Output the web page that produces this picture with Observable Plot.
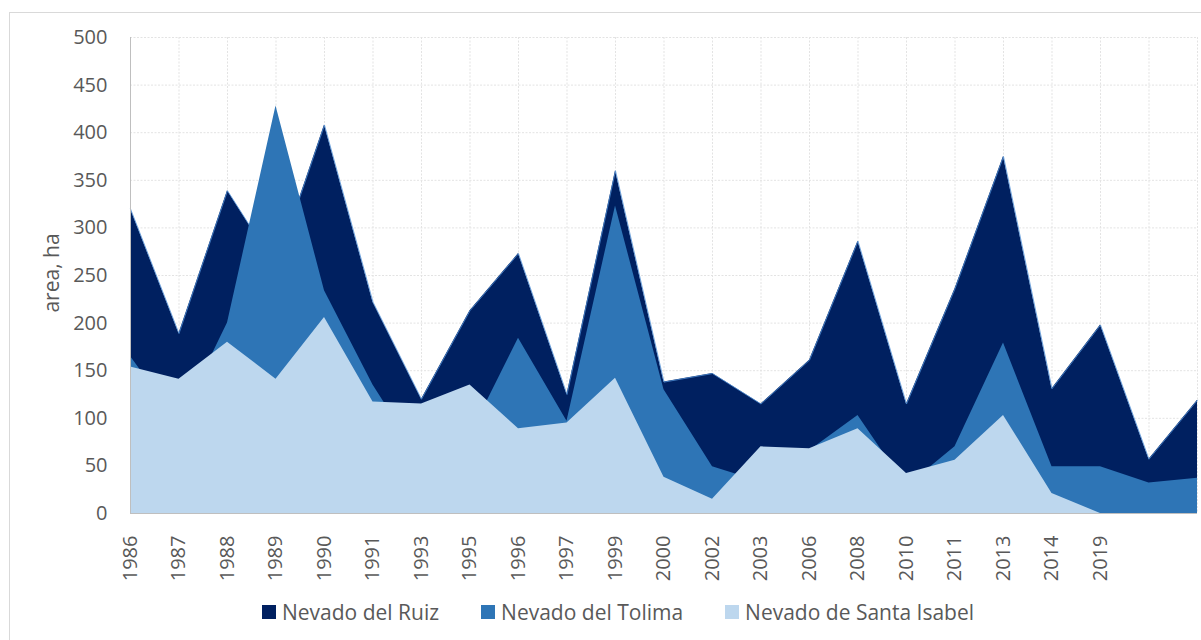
<!DOCTYPE html>
<html>
<head>
<meta charset="utf-8">
<script src="https://cdn.jsdelivr.net/npm/d3@7"></script>
<script src="https://cdn.jsdelivr.net/npm/@observablehq/plot@0.6"></script>
<style>
  html, body { margin: 0; padding: 0; background: #ffffff; }
  body { width: 1201px; height: 640px; position: relative; overflow: hidden; font-family: "Open Sans", sans-serif; }
  #frame { position: absolute; left: 9px; top: 12px; width: 1200px; height: 640px; border: 1px solid #d9d9d9; box-sizing: border-box; }
  #chart { position: absolute; left: 0; top: 0; }
  #ylabel { position: absolute; left: 51px; top: 273px; transform: translate(-50%, -50%) rotate(-90deg); font-size: 21px; color: #595959; white-space: nowrap; }
  #legend { position: absolute; left: 262px; top: 598px; display: flex; gap: 42px; font-size: 21px; color: #595959; line-height: 28px; }
  .item { display: flex; align-items: center; gap: 6px; }
  .sw { width: 14px; height: 14px; display: inline-block; }
</style>
</head>
<body>
<div id="frame"></div>
<div id="chart"></div>
<div id="ylabel">area, ha</div>
<div id="legend"></div>
<script>
// Category labels (last two categories are unlabeled in the original)
const years = ["1986","1987","1988","1989","1990","1991","1993","1995","1996","1997","1999",
               "2000","2002","2003","2006","2008","2010","2011","2013","2014","2019","",""];
// Series values (area, ha)
const ruiz   = [320, 189, 339, 259, 408, 222, 120, 213, 273, 125, 360, 138, 147, 115, 161, 286, 115, 236, 375, 131, 198, 57, 119];
const tolima = [165,  95, 200, 428, 234, 135,  55,  82, 184,  97, 323, 130,  49,  33,  66, 103,  28,  70, 179,  49,  49, 32,  37];
const isabel = [154, 141, 180, 141, 206, 117, 115, 135,  89,  95, 142,  38,  15,  70,  68,  89,  42,  56, 103,  21,   0,  0,   0];
const seriesNames = ["Nevado del Ruiz", "Nevado del Tolima", "Nevado de Santa Isabel"];
const seriesColors = ["#002060", "#2E75B6", "#BDD7EE"];
const yTicks = [0, 50, 100, 150, 200, 250, 300, 350, 400, 450, 500];

const idx = d3.range(years.length);
const rows = idx.map(i => ({i, ruiz: ruiz[i], tolima: tolima[i], isabel: isabel[i]}));
const labeled = idx.filter(i => years[i] !== "");

const chart = Plot.plot({
  width: 1201,
  height: 590,
  marginLeft: 130,
  marginRight: 4,
  marginTop: 37,
  marginBottom: 77,
  x: {type: "linear", domain: [0, years.length - 1]},
  y: {domain: [0, 500]},
  style: {fontFamily: "Open Sans, sans-serif", fontSize: "20px", color: "#595959", background: "transparent", overflow: "visible"},
  marks: [
    Plot.gridY(yTicks, {stroke: "#e3e3e3", strokeOpacity: 1, strokeDasharray: "2,1.5"}),
    Plot.gridX(idx, {stroke: "#e3e3e3", strokeOpacity: 1, strokeDasharray: "2,1.5"}),
    Plot.areaY(rows, {x: "i", y: "ruiz", fill: seriesColors[0]}),
    Plot.lineY(rows, {x: "i", y: "ruiz", stroke: "#4f8fd6", strokeWidth: 0.8}),
    Plot.areaY(rows, {x: "i", y: "tolima", fill: seriesColors[1]}),
    Plot.areaY(rows, {x: "i", y: "isabel", fill: seriesColors[2]}),
    Plot.ruleX([0], {stroke: "#bfbfbf"}),
    Plot.ruleY([0], {stroke: "#bfbfbf"}),
    Plot.axisY({ticks: yTicks, tickSize: 0, tickPadding: 23, label: null, fill: "#595959", fontSize: 20}),
    Plot.axisX({ticks: labeled, tickFormat: i => years[i], tickSize: 0, tickPadding: 22, tickRotate: -90, label: null, fill: "#595959", fontSize: 20})
  ]
});
document.getElementById("chart").appendChild(chart);

const legend = document.getElementById("legend");
seriesNames.forEach((name, k) => {
  const item = document.createElement("div");
  item.className = "item";
  const sw = document.createElement("span");
  sw.className = "sw";
  sw.style.background = seriesColors[k];
  const t = document.createElement("span");
  t.textContent = name;
  item.appendChild(sw);
  item.appendChild(t);
  legend.appendChild(item);
});
</script>
</body>
</html>
